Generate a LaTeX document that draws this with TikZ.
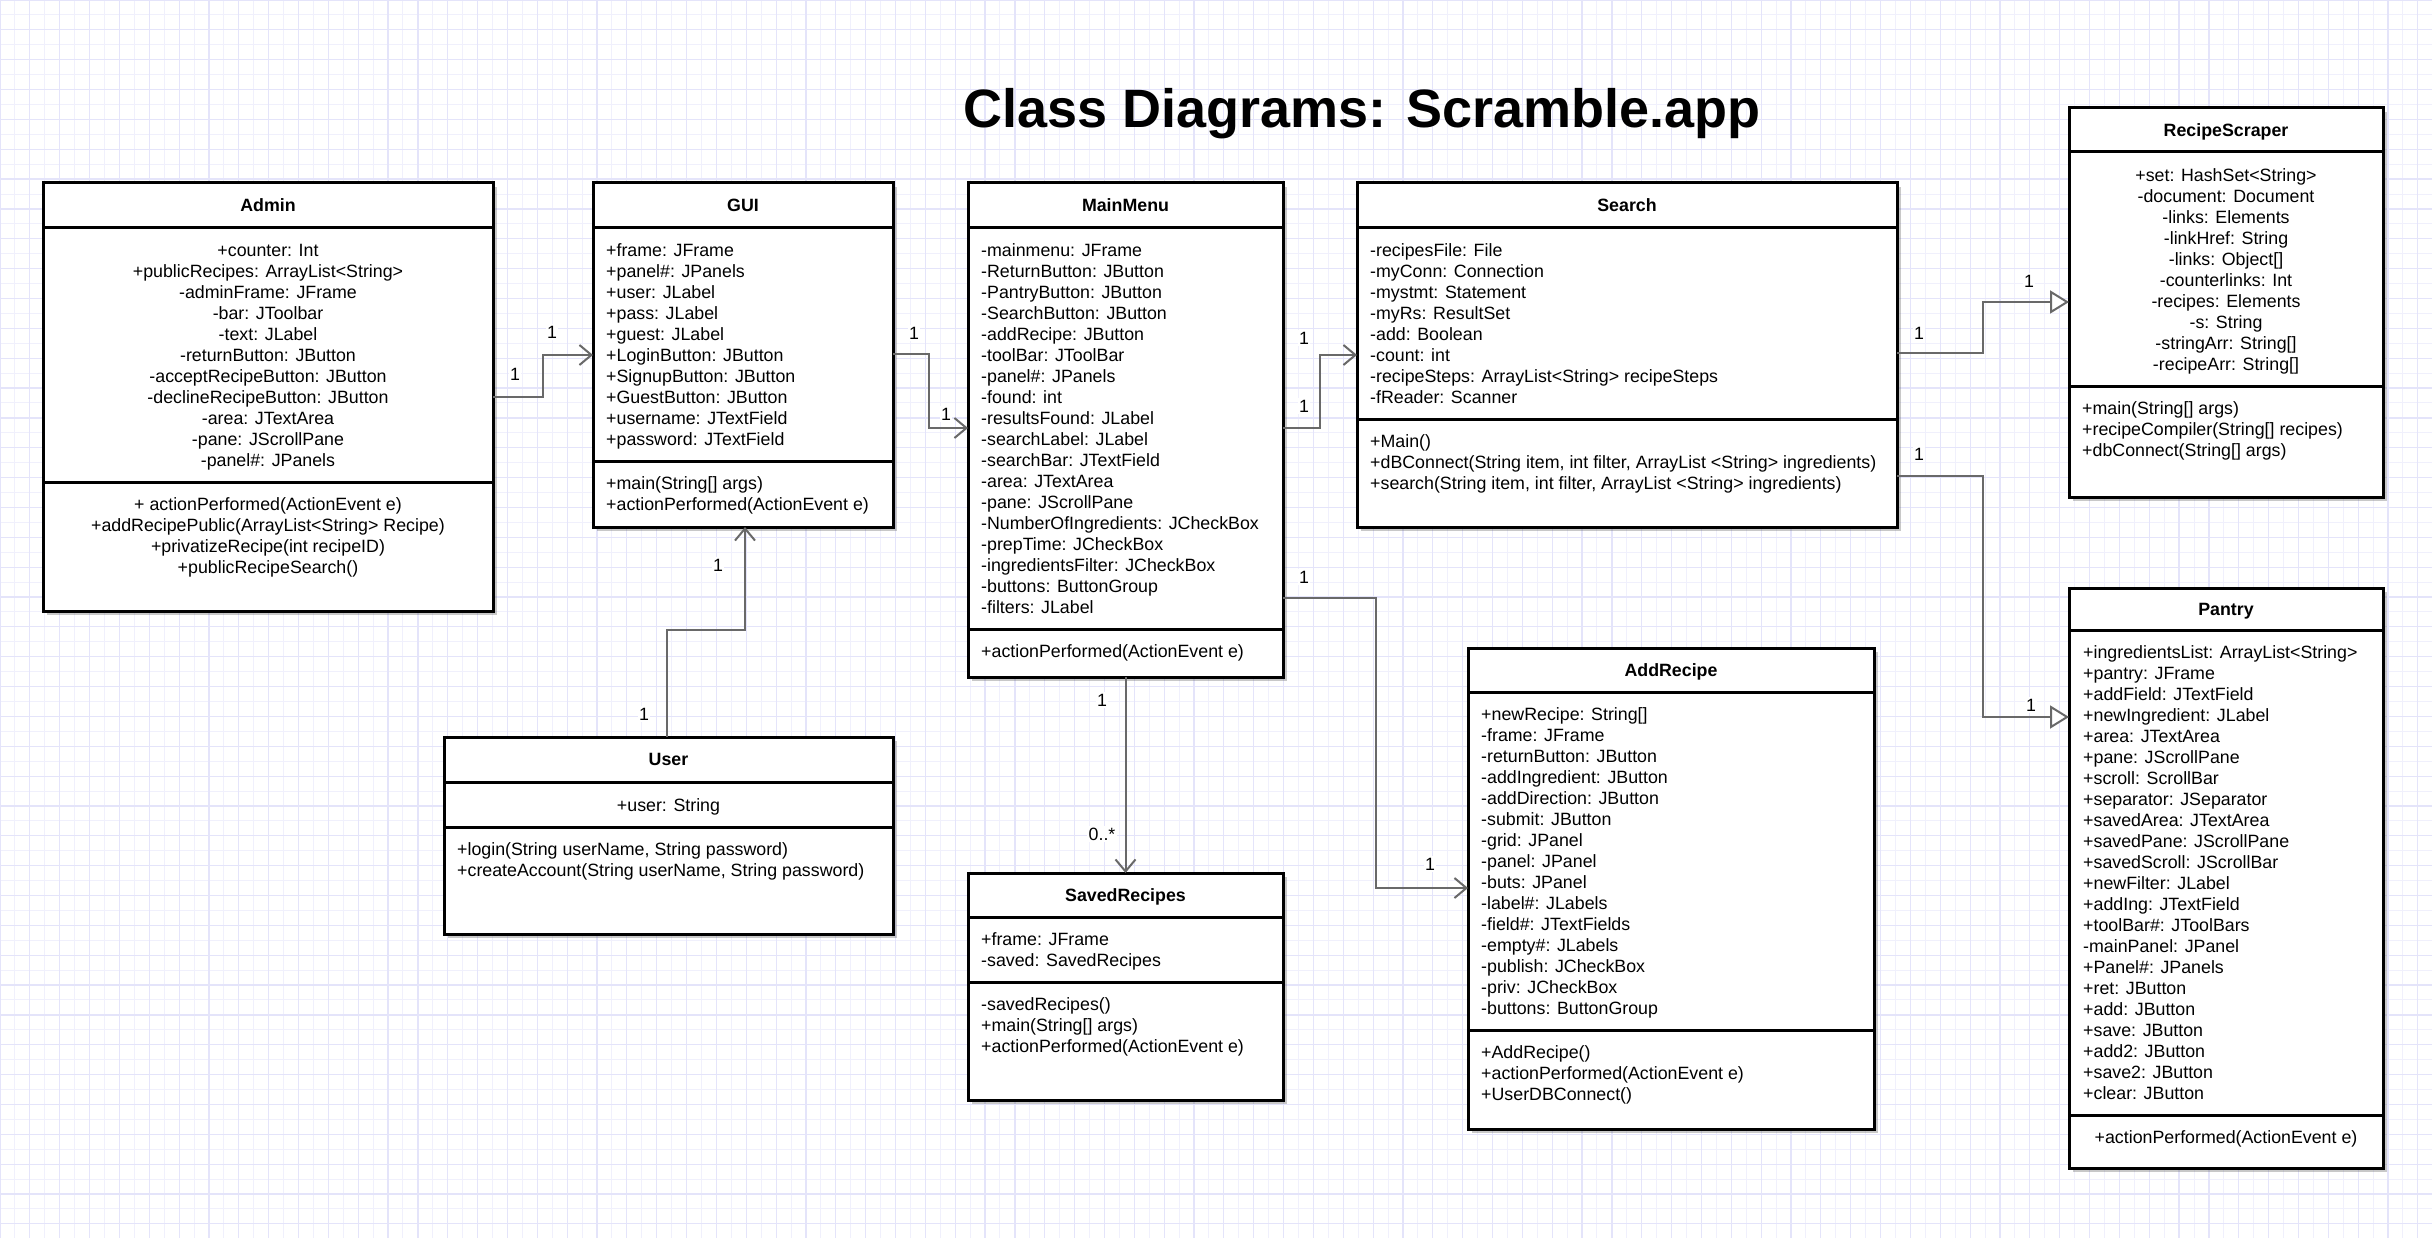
\documentclass[tikz,border=0pt]{standalone}
\usepackage{fontspec}
\setmainfont{Liberation Sans}
\usetikzlibrary{arrows.meta,shadows}
\definecolor{gridc}{RGB}{228,228,250}
\definecolor{gridm}{RGB}{240,240,252}
\definecolor{conn}{RGB}{105,105,105}
\tikzset{
  cls/.style={draw=black, line width=3pt, fill=white, anchor=north west, inner sep=0pt, outer sep=0pt,
    drop shadow={shadow xshift=4pt, shadow yshift=-4pt, opacity=0.3, fill=black!70}},
  sepl/.style={draw=black, line width=3pt},
  txt/.style={font=\fontsize{17.8pt}{21pt}\selectfont, inner sep=0pt},
  hdr/.style={font=\fontsize{17.8pt}{21pt}\selectfont\bfseries, inner sep=0pt, anchor=base},
  assoc/.style={draw=conn, line width=2pt, -{Straight Barb[length=12pt,width=20pt]}},
  gener/.style={draw=conn, line width=2pt, -{Triangle[length=19pt,width=23pt,fill=white]}},
  mult/.style={font=\fontsize{17.8pt}{21pt}\selectfont, fill=white, inner sep=1.5pt},
  gridline/.style={draw=gridc, line width=1.2pt},
  gridminor/.style={draw=gridm, line width=1pt},
}
% name, anchor, x, first line centre y, list
\newcommand{\Lines}[5]{%
  \foreach[count=\k from 0] \myl in {#5}{%
    \node[txt, anchor=#2] (#1-\k) at (#3, #4+6.4+21*\k) {\myl};}}
\begin{document}
\begin{tikzpicture}[x=1pt,y=-1pt]
\useasboundingbox (0,0) rectangle (2432,1238);
\fill[white] (0,0) rectangle (2432,1238);
\foreach \i in {0,...,81} \draw[gridminor] (\i*29.85+14.925,0) -- (\i*29.85+14.925,1238);
\foreach \j in {0,...,41} \draw[gridminor] (0,\j*29.85+14.925) -- (2432,\j*29.85+14.925);
\foreach \i in {0,...,81} \draw[gridline] (\i*29.85,0) -- (\i*29.85,1238);
\foreach \j in {0,...,41} \draw[gridline] (0,\j*29.85) -- (2432,\j*29.85);

% title
\node[font=\fontsize{54pt}{60pt}\selectfont\bfseries, anchor=base, inner sep=0pt] (title) at (1362,128) {Class Diagrams: Scramble.app};

% Admin
\node[cls, minimum width=450pt, minimum height=428pt] (admin) at (43,183) {};
\draw[sepl] (admin.west |- 0,228) -- (admin.east |- 0,228);
\draw[sepl] (admin.west |- 0,482) -- (admin.east |- 0,482);
\node[hdr] (admin-t) at (268,211.9) {Admin};
\Lines{admin-a}{base}{268}{250}{+counter: Int, +publicRecipes: ArrayList<String>, -adminFrame: JFrame, -bar: JToolbar, -text: JLabel, -returnButton: JButton, -acceptRecipeButton: JButton, -declineRecipeButton: JButton, -area: JTextArea, -pane: JScrollPane, -panel\#: JPanels}
\Lines{admin-m}{base}{268}{504}{+ actionPerformed(ActionEvent e), +addRecipePublic(ArrayList<String> Recipe), +privatizeRecipe(int recipeID), +publicRecipeSearch()}

% GUI
\node[cls, minimum width=300pt, minimum height=344pt] (gui) at (593,183) {};
\draw[sepl] (gui.west |- 0,228) -- (gui.east |- 0,228);
\draw[sepl] (gui.west |- 0,461) -- (gui.east |- 0,461);
\node[hdr] (gui-t) at (743,211.9) {GUI};
\Lines{gui-a}{base west}{606}{250}{+frame: JFrame, +panel\#: JPanels, +user: JLabel, +pass: JLabel, +guest: JLabel, +LoginButton: JButton, +SignupButton: JButton, +GuestButton: JButton, +username: JTextField, +password: JTextField}
\Lines{gui-m}{base west}{606}{483}{+main(String[] args), +actionPerformed(ActionEvent e)}

% MainMenu
\node[cls, minimum width=315pt, minimum height=494pt] (mainmenu) at (968,183) {};
\draw[sepl] (mainmenu.west |- 0,228) -- (mainmenu.east |- 0,228);
\draw[sepl] (mainmenu.west |- 0,629) -- (mainmenu.east |- 0,629);
\node[hdr] (mainmenu-t) at (1125.5,211.9) {MainMenu};
\Lines{mainmenu-a}{base west}{981}{250}{-mainmenu: JFrame, -ReturnButton: JButton, -PantryButton: JButton, -SearchButton: JButton, -addRecipe: JButton, -toolBar: JToolBar, -panel\#: JPanels, -found: int, -resultsFound: JLabel, -searchLabel: JLabel, -searchBar: JTextField, -area: JTextArea, -pane: JScrollPane, -NumberOfIngredients: JCheckBox, -prepTime: JCheckBox, -ingredientsFilter: JCheckBox, -buttons: ButtonGroup, -filters: JLabel}
\Lines{mainmenu-m}{base west}{981}{651}{+actionPerformed(ActionEvent e)}

% Search
\node[cls, minimum width=540pt, minimum height=344pt] (search) at (1357,183) {};
\draw[sepl] (search.west |- 0,228) -- (search.east |- 0,228);
\draw[sepl] (search.west |- 0,419) -- (search.east |- 0,419);
\node[hdr] (search-t) at (1627,211.9) {Search};
\Lines{search-a}{base west}{1370}{250}{-recipesFile: File, -myConn: Connection, -mystmt: Statement, -myRs: ResultSet, -add: Boolean, -count: int, -recipeSteps: ArrayList<String> recipeSteps, -fReader: Scanner}
\Lines{search-m}{base west}{1370}{441}{+Main(), {+dBConnect(String item, int filter, ArrayList <String> ingredients)}, {+search(String item, int filter, ArrayList <String> ingredients)}}

% RecipeScraper
\node[cls, minimum width=314pt, minimum height=389pt] (scraper) at (2069,108) {};
\draw[sepl] (scraper.west |- 0,152) -- (scraper.east |- 0,152);
\draw[sepl] (scraper.west |- 0,386) -- (scraper.east |- 0,386);
\node[hdr] (scraper-t) at (2226,136.4) {RecipeScraper};
\Lines{scraper-a}{base}{2226}{175}{+set: HashSet<String>, -document: Document, -links: Elements, -linkHref: String, -links: Object[], -counterlinks: Int, -recipes: Elements, -s: String, -stringArr: String[], -recipeArr: String[]}
\Lines{scraper-m}{base west}{2082}{408}{+main(String[] args), +recipeCompiler(String[] recipes), +dbConnect(String[] args)}

% Pantry
\node[cls, minimum width=314pt, minimum height=580pt] (pantry) at (2069,588) {};
\draw[sepl] (pantry.west |- 0,630) -- (pantry.east |- 0,630);
\draw[sepl] (pantry.west |- 0,1115) -- (pantry.east |- 0,1115);
\node[hdr] (pantry-t) at (2226,615.4) {Pantry};
\Lines{pantry-a}{base west}{2083}{652}{+ingredientsList: ArrayList<String>, +pantry: JFrame, +addField: JTextField, +newIngredient: JLabel, +area: JTextArea, +pane: JScrollPane, +scroll: ScrollBar, +separator: JSeparator, +savedArea: JTextArea, +savedPane: JScrollPane, +savedScroll: JScrollBar, +newFilter: JLabel, +addIng: JTextField, +toolBar\#: JToolBars, -mainPanel: JPanel, +Panel\#: JPanels, +ret: JButton, +add: JButton, +save: JButton, +add2: JButton, +save2: JButton, +clear: JButton}
\Lines{pantry-m}{base}{2226}{1137}{+actionPerformed(ActionEvent e)}

% User
\node[cls, minimum width=449pt, minimum height=197pt] (user) at (444,737) {};
\draw[sepl] (user.west |- 0,782) -- (user.east |- 0,782);
\draw[sepl] (user.west |- 0,827) -- (user.east |- 0,827);
\node[hdr] (user-t) at (668.5,765.9) {User};
\Lines{user-a}{base}{668.5}{805}{+user: String}
\Lines{user-m}{base west}{457}{849}{{+login(String userName, String password)}, {+createAccount(String userName, String password)}}

% SavedRecipes
\node[cls, minimum width=315pt, minimum height=227pt] (saved) at (968,873) {};
\draw[sepl] (saved.west |- 0,917) -- (saved.east |- 0,917);
\draw[sepl] (saved.west |- 0,982) -- (saved.east |- 0,982);
\node[hdr] (saved-t) at (1125.5,901.4) {SavedRecipes};
\Lines{saved-a}{base west}{981}{939}{+frame: JFrame, -saved: SavedRecipes}
\Lines{saved-m}{base west}{981}{1004}{-savedRecipes(), +main(String[] args), +actionPerformed(ActionEvent e)}

% AddRecipe
\node[cls, minimum width=406pt, minimum height=481pt] (addrecipe) at (1468,648) {};
\draw[sepl] (addrecipe.west |- 0,692) -- (addrecipe.east |- 0,692);
\draw[sepl] (addrecipe.west |- 0,1030) -- (addrecipe.east |- 0,1030);
\node[hdr] (addrecipe-t) at (1671,676.4) {AddRecipe};
\Lines{addrecipe-a}{base west}{1481}{714}{+newRecipe: String[], -frame: JFrame, -returnButton: JButton, -addIngredient: JButton, -addDirection: JButton, -submit: JButton, -grid: JPanel, -panel: JPanel, -buts: JPanel, -label\#: JLabels, -field\#: JTextFields, -empty\#: JLabels, -publish: JCheckBox, -priv: JCheckBox, -buttons: ButtonGroup}
\Lines{addrecipe-m}{base west}{1481}{1052}{+AddRecipe(), +actionPerformed(ActionEvent e), +UserDBConnect()}

% connectors
\draw[assoc] (admin.east |- 0,397) -- (543,397) |- (gui.west |- 0,355);
\draw[assoc] (gui.east |- 0,354) -- (929,354) |- (mainmenu.west |- 0,428);
\draw[assoc] (mainmenu.east |- 0,428) -- (1320,428) |- (search.west |- 0,355);
\draw[assoc] (mainmenu.east |- 0,598) -- (1376,598) |- (addrecipe.west |- 0,888);
\draw[assoc] (mainmenu.south) -- (saved.north);
\draw[assoc] (user.north -| 667,0) -- (667,630) -| (gui.south -| 745,0);
\draw[gener] (search.east |- 0,353) -- (1983,353) |- (scraper.west |- 0,302);
\draw[gener] (search.east |- 0,476) -- (1983,476) |- (pantry.west |- 0,717);

% multiplicities
\node[mult] (m1) at (515,374) {1};
\node[mult] (m2) at (552,332) {1};
\node[mult] (m3) at (914,333) {1};
\node[mult] (m4) at (946,414) {1};
\node[mult] (m5) at (1304,338) {1};
\node[mult] (m6) at (1304,406) {1};
\node[mult] (m7) at (1304,577) {1};
\node[mult] (m8) at (1430,864) {1};
\node[mult] (m9) at (1102,700) {1};
\node[mult] (m10) at (1102,834) {0..*};
\node[mult] (m11) at (644,714) {1};
\node[mult] (m12) at (718,565) {1};
\node[mult] (m13) at (1919,333) {1};
\node[mult] (m14) at (2029,281) {1};
\node[mult] (m15) at (1919,454) {1};
\node[mult] (m16) at (2031,705) {1};
\end{tikzpicture}
\end{document}
